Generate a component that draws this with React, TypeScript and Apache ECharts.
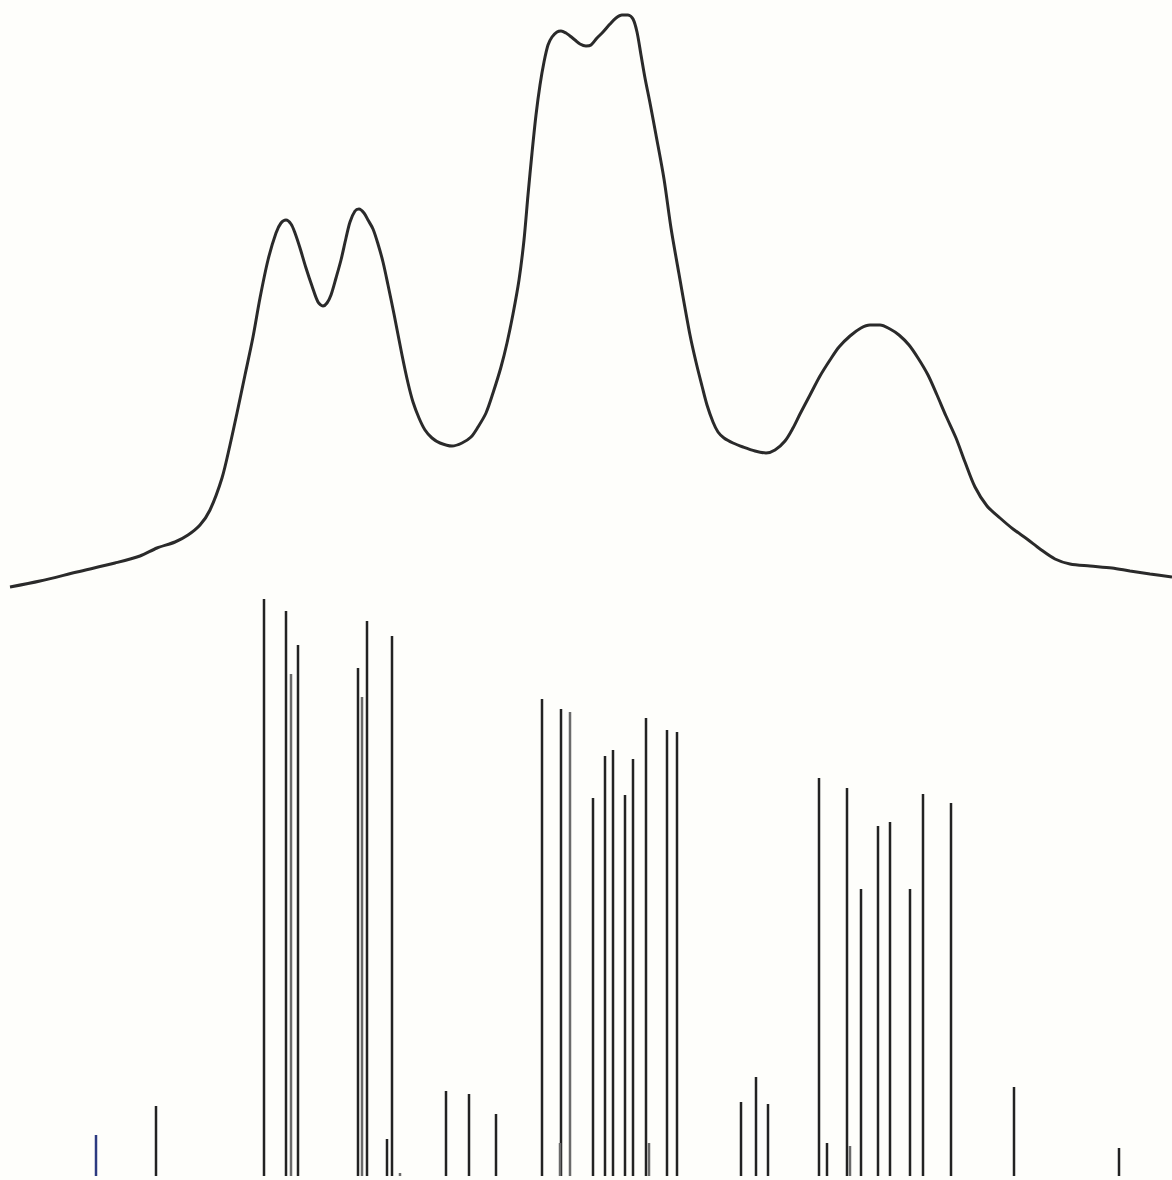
import React, { useEffect, useRef } from "react";
import * as echarts from "echarts";

// Absorption-type envelope curve: position and height above its baseline (arbitrary units)
const curveX = [10, 40, 77, 115, 140, 157, 175, 188, 200, 210, 222, 230, 237, 245, 253, 260, 268, 276, 281, 286, 291, 295, 300, 306, 312, 318, 323, 327, 331, 336, 341, 346, 350, 355, 359, 364, 368, 373, 378, 383, 388, 394, 402, 408, 413, 419, 425, 432, 440, 452, 462, 471, 478, 486, 493, 501, 507, 513, 519, 524, 528, 532, 536, 540, 544, 548, 552, 557, 561, 566, 570, 575, 580, 586, 591, 597, 603, 610, 616, 622, 628, 633, 637, 641, 645, 650, 656, 664, 671, 679, 690, 696, 702, 707, 713, 718, 724, 733, 743, 755, 766, 775, 785, 793, 800, 810, 820, 830, 839, 850, 861, 870, 880, 890, 899, 909, 918, 928, 937, 946, 956, 965, 975, 987, 1000, 1013, 1027, 1040, 1055, 1070, 1090, 1112, 1130, 1150, 1172];
const curveY = [13, 19, 28, 37, 44, 52, 58, 65, 75, 90, 122, 155, 187, 225, 263, 302, 340, 367, 377, 380, 376, 367, 352, 332, 314, 298, 294, 297, 305, 322, 340, 362, 378, 389, 391, 387, 380, 371, 356, 338, 315, 286, 245, 217, 198, 182, 170, 162, 157, 154, 157, 163, 173, 187, 207, 233, 257, 286, 320, 360, 405, 447, 485, 515, 538, 555, 563, 568, 569, 567, 564, 560, 556, 554, 555, 562, 568, 576, 582, 585, 585, 581, 568, 545, 522, 497, 465, 421, 372, 326, 265, 238, 214, 195, 178, 168, 162, 157, 153, 149, 147, 150, 159, 172, 186, 205, 224, 240, 253, 264, 272, 275, 275, 271, 265, 255, 242, 225, 205, 184, 162, 138, 113, 94, 82, 71, 61, 51, 41, 36, 34, 32, 29, 26, 23];

// Stick spectrum: line positions and intensities (arbitrary units)
const stickX = [156, 264, 286, 298, 358, 367, 387, 392, 446, 469, 496, 542, 561, 593, 605, 613, 625, 633, 646, 667, 677, 741, 756, 768, 819, 827, 847, 861, 878, 890, 910, 923, 951, 1014, 1119];
const stickY = [70, 577, 565, 531, 508, 555, 37, 540, 85, 82, 62, 477, 467, 378, 420, 426, 381, 417, 458, 446, 444, 74, 99, 72, 398, 33, 388, 287, 350, 354, 287, 382, 373, 89, 28];

// Faint (lighter printed) lines
const faintX = [291, 362, 400, 560, 570, 649, 850];
const faintY = [502, 479, 3, 33, 464, 33, 30];

// Blue-tinted line at far left
const blueX = [96];
const blueY = [41];

const CURVE_MAX = 585;
const STICK_MAX = 577;

function toPairs(xs: number[], ys: number[]) {
  return xs.map((x, i) => [x, ys[i]]);
}

function stickRenderer(color: string, width: number) {
  return (params: any, api: any) => {
    const x = api.value(0);
    const v = api.value(1);
    const p0 = api.coord([x, 0]);
    const p1 = api.coord([x, v]);
    return {
      type: "line",
      shape: { x1: p0[0], y1: p0[1], x2: p1[0], y2: p1[1] },
      style: { stroke: color, lineWidth: width },
    };
  };
}

export default function App() {
  const ref = useRef<HTMLDivElement>(null);
  useEffect(() => {
    if (!ref.current) return;
    const chart = echarts.init(ref.current, null, { renderer: "svg" });
    chart.setOption({
      animation: false,
      backgroundColor: "#fefefb",
      grid: [
        { left: 0, right: 0, top: 15, height: 585 },
        { left: 0, right: 0, top: 599, height: 577 },
      ],
      xAxis: [
        { type: "value", gridIndex: 0, min: 0, max: 1172, show: false },
        { type: "value", gridIndex: 1, min: 0, max: 1172, show: false },
      ],
      yAxis: [
        { type: "value", gridIndex: 0, min: 0, max: CURVE_MAX, show: false },
        { type: "value", gridIndex: 1, min: 0, max: STICK_MAX, show: false },
      ],
      series: [
        {
          type: "line",
          xAxisIndex: 0,
          yAxisIndex: 0,
          data: toPairs(curveX, curveY),
          smooth: 0.3,
          symbol: "none",
          clip: false,
          lineStyle: { color: "#2a2a2a", width: 3 },
        },
        {
          type: "custom",
          xAxisIndex: 1,
          yAxisIndex: 1,
          data: toPairs(stickX, stickY),
          renderItem: stickRenderer("#222222", 2.5),
          clip: false,
        },
        {
          type: "custom",
          xAxisIndex: 1,
          yAxisIndex: 1,
          data: toPairs(faintX, faintY),
          renderItem: stickRenderer("#6a6a6a", 2.5),
          clip: false,
        },
        {
          type: "custom",
          xAxisIndex: 1,
          yAxisIndex: 1,
          data: toPairs(blueX, blueY),
          renderItem: stickRenderer("#2c3a80", 2.5),
          clip: false,
        },
      ],
    });
    return () => chart.dispose();
  }, []);
  return (
    <div
      ref={ref}
      style={{ position: "fixed", left: 0, top: 0, width: 1172, height: 1180 }}
    />
  );
}
